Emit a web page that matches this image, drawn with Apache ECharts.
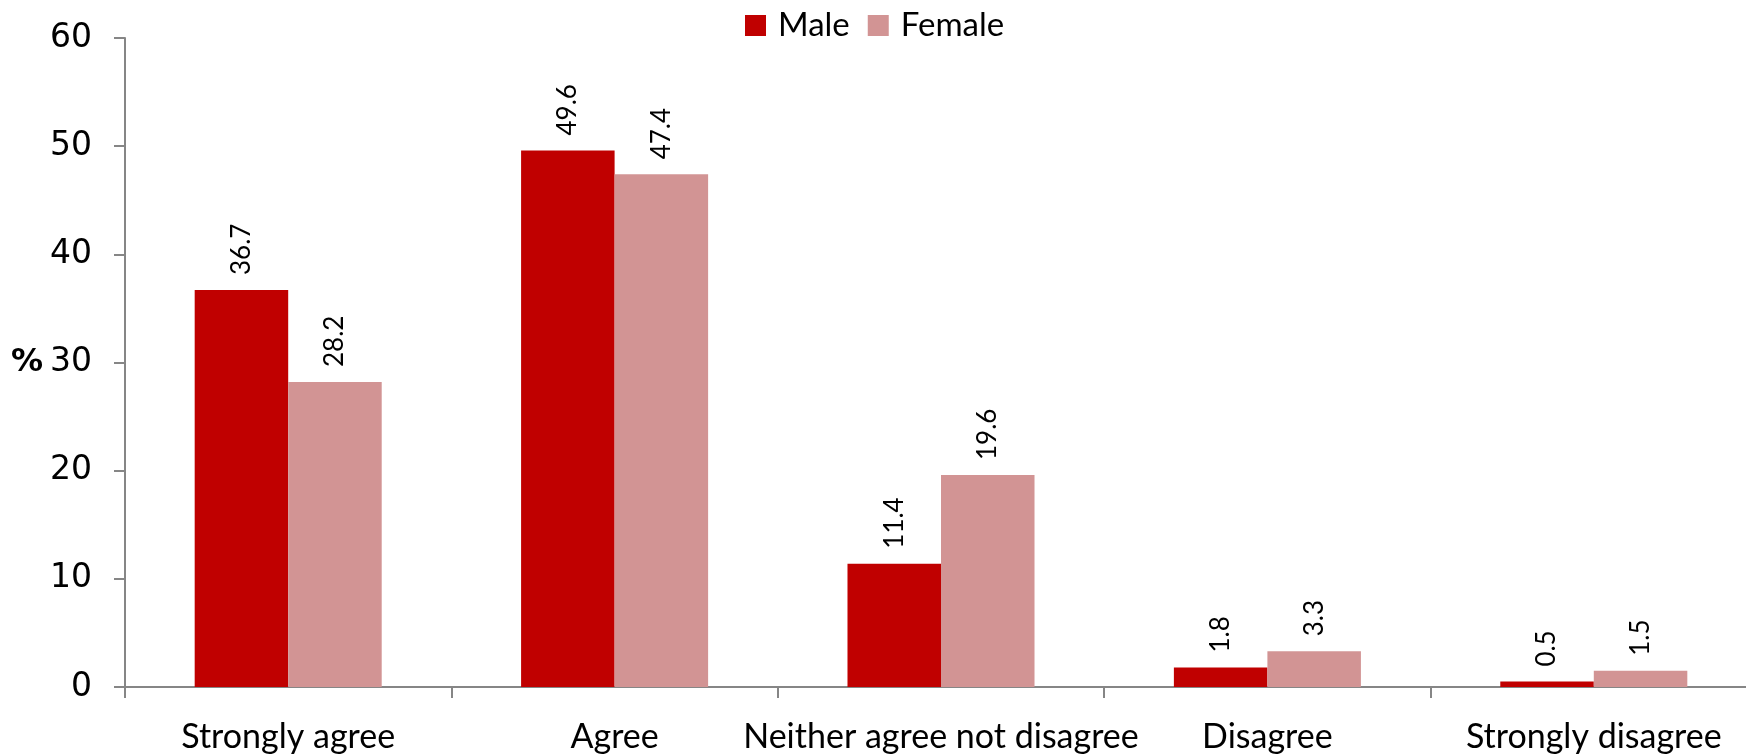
<!DOCTYPE html>
<html>
<head>
<meta charset="utf-8">
<script src="https://cdn.jsdelivr.net/npm/echarts@6/dist/echarts.min.js"></script>
<style>
  html, body { margin: 0; padding: 0; background: #fff; overflow: hidden; }
  /* the last category runs slightly past the visible right edge */
  #chart { width: 1757px; height: 755px; }
</style>
</head>
<body>
<div id="chart"></div>
<script>
// Response categories along the x axis
const categories = ['Strongly agree', 'Agree', 'Neither agree not disagree', 'Disagree', 'Strongly disagree'];
// Percentages per group
const maleValues = [36.7, 49.6, 11.4, 1.8, 0.5];
const femaleValues = [28.2, 47.4, 19.6, 3.3, 1.5];
// Y axis range
const yTicks = [0, 10, 20, 30, 40, 50, 60];

const labelFont = 'Lato, "Open Sans", sans-serif';
const numberFont = '"DejaVu Sans", Verdana, sans-serif';
const axisColor = '#868686';

const chart = echarts.init(document.getElementById('chart'));

const valueLabel = {
  show: true,
  position: 'top',
  rotate: 90,
  align: 'left',
  verticalAlign: 'middle',
  distance: 15,
  fontFamily: labelFont,
  fontSize: 26,
  color: '#000',
  formatter: p => p.value.toFixed(1)
};

chart.setOption({
  animation: false,
  legend: {
    top: 4,
    left: 740,
    itemWidth: 21,
    itemHeight: 21,
    itemGap: 18,
    icon: 'rect',
    textStyle: { fontFamily: labelFont, fontSize: 33, color: '#000', padding: [0, 0, 0, 7] },
    data: ['Male', 'Female']
  },
  grid: { left: 125, right: 0, top: 38, bottom: 68 },
  xAxis: {
    type: 'category',
    data: categories,
    axisLine: { lineStyle: { color: axisColor, width: 2 } },
    axisTick: { show: true, interval: 0, length: 11, lineStyle: { color: axisColor, width: 2 } },
    axisLabel: { interval: 0, fontFamily: labelFont, fontSize: 34, color: '#000', margin: 33 }
  },
  yAxis: {
    type: 'value',
    min: yTicks[0],
    max: yTicks[yTicks.length - 1],
    interval: 10,
    name: '%',
    nameLocation: 'middle',
    nameRotate: 0,
    nameGap: 82,
    nameTextStyle: { fontFamily: numberFont, fontSize: 32, fontWeight: 'bold', color: '#000' },
    axisLine: { show: true, lineStyle: { color: axisColor, width: 2 } },
    axisTick: { show: true, length: 11, lineStyle: { color: axisColor, width: 2 } },
    splitLine: { show: false },
    axisLabel: { fontFamily: numberFont, fontSize: 33, color: '#000', margin: 33 }
  },
  series: [
    {
      name: 'Male',
      type: 'bar',
      data: maleValues,
      barGap: '0%',
      barCategoryGap: '42.7%',
      itemStyle: { color: '#C00000' },
      label: valueLabel
    },
    {
      name: 'Female',
      type: 'bar',
      data: femaleValues,
      itemStyle: { color: '#D29494' },
      label: valueLabel
    }
  ]
});
</script>
</body>
</html>
